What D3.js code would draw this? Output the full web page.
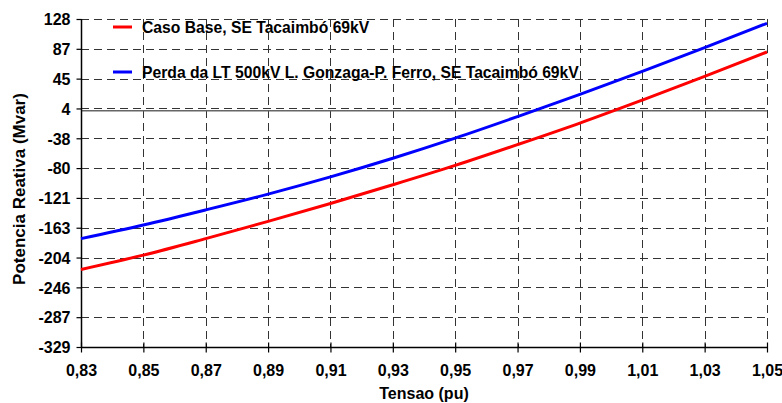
<!DOCTYPE html>
<html>
<head>
<meta charset="utf-8">
<script src="https://cdn.jsdelivr.net/npm/d3@7"></script>
<style>
html,body{margin:0;padding:0;background:#fff;}
svg{display:block;}
text{font-family:"Liberation Sans",Arial,sans-serif;font-weight:bold;fill:#000;}
</style>
</head>
<body>
<svg id="chart" width="782" height="403"></svg>
<script>
// ---- data ----
const tensao = [0.83, 0.85, 0.87, 0.89, 0.91, 0.93, 0.95, 0.97, 0.99, 1.01, 1.03, 1.05];
const casoBase = [-221, -201, -178, -154, -129, -103, -76, -47, -17, 15, 48, 82];
const perdaLT = [-178, -159, -138, -116, -92, -66, -38, -8, 23, 55, 88, 122];
const seriesNames = ["Caso Base, SE Tacaimbó 69kV", "Perda da LT 500kV L. Gonzaga-P. Ferro, SE Tacaimbó 69kV"];
const xTicks = [0.83, 0.85, 0.87, 0.89, 0.91, 0.93, 0.95, 0.97, 0.99, 1.01, 1.03, 1.05];
const xTickLabels = ["0,83", "0,85", "0,87", "0,89", "0,91", "0,93", "0,95", "0,97", "0,99", "1,01", "1,03", "1,05"];
const yMin = -329, yMax = 128;
const yTickLabels = ["-329", "-287", "-246", "-204", "-163", "-121", "-80", "-38", "4", "45", "87", "128"];

// ---- layout ----
const svg = d3.select("#chart");
const L = 81, R = 767, T = 19, B = 347;
const x = d3.scaleLinear().domain([0.83, 1.05]).range([L, R]);
const y = d3.scaleLinear().domain([yMin, yMax]).range([B, T]);
const yTicks = yTickLabels.map((d, i) => yMin + i * (yMax - yMin) / (yTickLabels.length - 1));

// grid
const grid = svg.append("g").attr("stroke", "#333").attr("stroke-width", 1).attr("stroke-dasharray", "8,5");
grid.selectAll(".hg").data(yTicks.slice(1)).enter().append("line")
  .attr("x1", L).attr("x2", R).attr("y1", d => Math.round(y(d)) + 0.5).attr("y2", d => Math.round(y(d)) + 0.5);
grid.selectAll(".vg").data(xTicks.slice(1)).enter().append("line")
  .attr("y1", T).attr("y2", B).attr("x1", d => Math.round(x(d)) + 0.5).attr("x2", d => Math.round(x(d)) + 0.5);

// zero line
svg.append("line").attr("x1", L).attr("x2", R).attr("y1", y(0)).attr("y2", y(0))
  .attr("stroke", "#666").attr("stroke-width", 1.5);

// axes
const yAxis = d3.axisLeft(y).tickValues(yTicks).tickFormat((d, i) => yTickLabels[i]).tickSize(5).tickPadding(6);
const gy = svg.append("g").attr("transform", `translate(${L + 0.5},0)`).call(yAxis);
gy.select(".domain").attr("stroke", "#000").attr("stroke-width", 1.5).attr("d", `M0,${T}V${B}`);
gy.selectAll(".tick line").attr("stroke", "#000").attr("stroke-width", 1.2);
gy.selectAll(".tick text").style("font-size", "16px").attr("dy", "0.36em");

const xAxis = d3.axisBottom(x).tickValues(xTicks).tickFormat((d, i) => xTickLabels[i]).tickSize(5).tickPadding(12);
const gx = svg.append("g").attr("transform", `translate(0,${B + 0.5})`).call(xAxis);
gx.select(".domain").attr("stroke", "#000").attr("stroke-width", 1.5).attr("d", `M${L},0H${R}`);
gx.selectAll(".tick line").attr("stroke", "#000").attr("stroke-width", 1.2).attr("y1", -5).attr("y2", 5);
gx.selectAll(".tick text").style("font-size", "16px");

// axis titles
svg.append("text").attr("x", (L + R) / 2).attr("y", 399).attr("text-anchor", "middle")
  .style("font-size", "16px").text("Tensao (pu)");
svg.append("text").attr("transform", `translate(25,${(T + B) / 2 + 6}) rotate(-90)`).attr("text-anchor", "middle")
  .style("font-size", "17px").text("Potencia Reativa (Mvar)");

// lines
const line = d3.line().x(d => x(d[0])).y(d => y(d[1])).curve(d3.curveMonotoneX);
const colors = ["#ff0000", "#0000ff"];
[casoBase, perdaLT].forEach((s, i) => {
  svg.append("path").datum(tensao.map((t, j) => [t, s[j]]))
    .attr("fill", "none").attr("stroke", colors[i]).attr("stroke-width", 3).attr("d", line);
});

// legend
const legY = [27, 72];
seriesNames.forEach((n, i) => {
  svg.append("line").attr("x1", 113).attr("x2", 132).attr("y1", legY[i]).attr("y2", legY[i])
    .attr("stroke", colors[i]).attr("stroke-width", 3);
  svg.append("text").attr("x", 142).attr("y", legY[i] + 6).style("font-size", "15.7px").text(n);
});
</script>
</body>
</html>
